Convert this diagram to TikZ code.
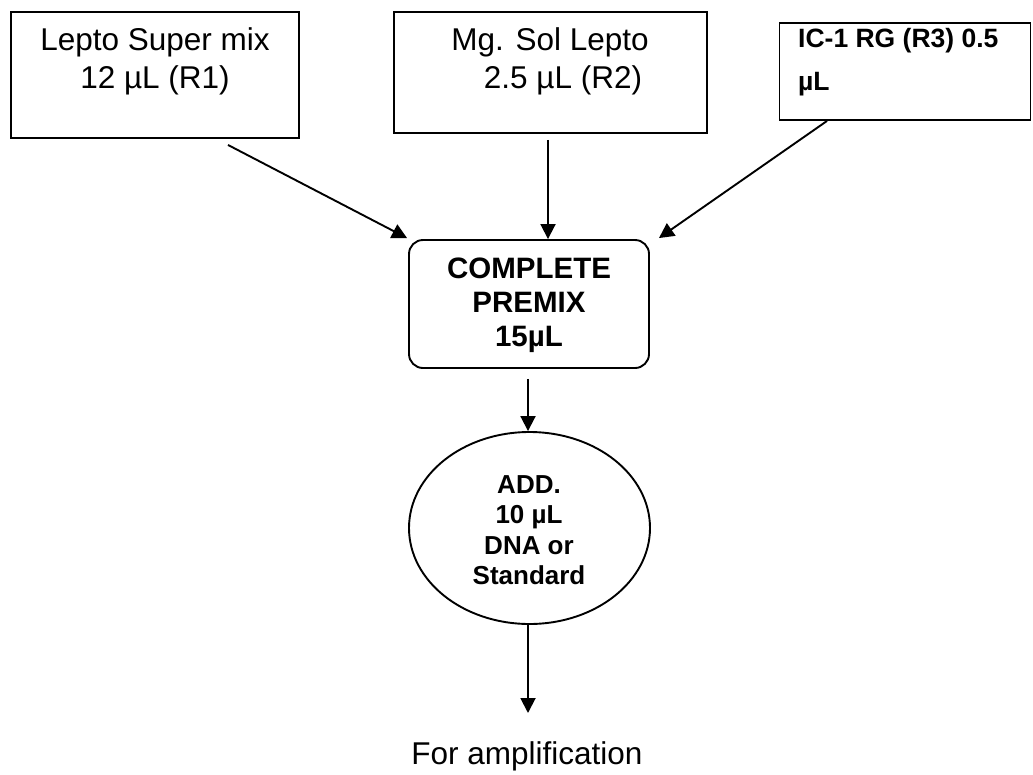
\documentclass[tikz,border=0pt]{standalone}
\usepackage{fontspec}
\setmainfont{Liberation Sans}
\usetikzlibrary{arrows.meta,shapes.geometric,calc}
\tikzset{
  boxshape/.style={draw=black, line width=1.9pt, inner sep=0pt, fill=white},
  arr/.style={line width=1.9pt, -{Triangle[length=15pt,width=15pt]}},
  regtext/.style={inner sep=0pt, align=center, font={\fontsize{31.5pt}{37.5pt}\selectfont}},
}
\begin{document}
\begin{tikzpicture}[x=1pt,y=-1pt]
\useasboundingbox (0,0) rectangle (1033,774);
% boxes
\node[boxshape, rectangle, minimum width=288pt, minimum height=126pt] (b1) at (155,75) {};
\node[boxshape, rectangle, minimum width=313pt, minimum height=121pt] (b2) at (550.5,72.5) {};
\node[boxshape, rectangle, minimum width=251pt, minimum height=97pt] (b3) at (905,71.5) {};
\node[boxshape, rectangle, rounded corners=14pt, minimum width=240pt, minimum height=128pt] (pm) at (529,304) {};
\node[boxshape, ellipse, minimum width=241pt, minimum height=192pt] (el) at (529.5,528) {};
% texts
\node[regtext] (t1) at (155,61.5) {Lepto Super mix\\12 µL (R1)};
\node[regtext] (t2) at (550,61.5) {Mg. Sol Lepto\\\hspace*{26pt}2.5 µL (R2)};
\node[inner sep=0pt, align=left, anchor=west, font={\bfseries\fontsize{26.5pt}{43pt}\selectfont}] (t3) at (798,62.5) {IC-1 RG (R3) 0.5\\µL};
\node[inner sep=0pt, align=center, font={\bfseries\fontsize{29.5pt}{34pt}\selectfont}] (pmt) at (529,305) {COMPLETE\\PREMIX\\15µL};
\node[inner sep=0pt, align=center, font={\bfseries\fontsize{26pt}{30.5pt}\selectfont}] (elt) at (529,530) {ADD.\\10 µL\\DNA or\\Standard};
\node[regtext] (amp) at (527,756) {For amplification};
% connectors
\draw[arr] ([xshift=73pt,yshift=-6pt]b1.south) -- ([xshift=-1pt,yshift=1pt]pm.north west);
\draw[arr] ([xshift=-2.5pt,yshift=-6pt]b2.south) coordinate (s2) -- (s2 |- pm.north);
\draw[arr] ([xshift=-78pt]b3.south) -- ([xshift=9pt,yshift=1pt]pm.north east);
\draw[arr] ([xshift=-1pt,yshift=-10pt]pm.south) coordinate (s4) -- (s4 |- el.north);
\coordinate (e5) at (528,713);
\draw[arr] (el.south -| e5) -- (e5);
\end{tikzpicture}
\end{document}
